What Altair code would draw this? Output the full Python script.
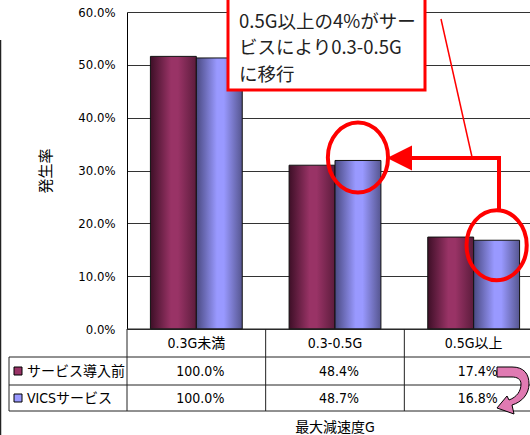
import altair as alt
import pandas as pd

# ---- data -------------------------------------------------------------
categories = ["0.3G未満", "0.3-0.5G", "0.5G以上"]
series_names = ["サービス導入前", "VICSサービス"]
# share of events at or above each deceleration band (table rows, %)
cum_before = [100.0, 48.4, 17.4]
cum_vics = [100.0, 48.7, 16.8]
y_ticks = [0, 10, 20, 30, 40, 50, 60]
note_lines = ["0.5G以上の4%がサー", "ビスにより0.3-0.5G", "に移行"]
x_title = "最大減速度G"
y_title = "発生率"


def band_share(cum):
    """Occurrence rate inside each band, from the cumulative table values."""
    out = []
    for i, v in enumerate(cum):
        nxt = cum[i + 1] if i + 1 < len(cum) else 0.0
        out.append(round(v - nxt, 1))
    return out


rows = []
for name, cum in zip(series_names, [cum_before, cum_vics]):
    for cat, share, c in zip(categories, band_share(cum), cum):
        rows.append({"category": cat, "series": name, "value": share,
                     "cum": f"{c:.1f}%"})
df = pd.DataFrame(rows)
cat_df = pd.DataFrame({"category": categories})
one = pd.DataFrame({"k": [0]})

# ---- layout -----------------------------------------------------------
W, H = 403, 317
NARROW = ("DejaVu Sans Condensed, Liberation Sans Narrow, Arial Narrow, "
          "Roboto Condensed, Noto Sans CJK JP")
JP = "Noto Sans CJK JP"
RED = "#ff0000"

x_scale = alt.Scale(domain=categories, range=[0, 416], paddingInner=0, paddingOuter=0)
xo_scale = alt.Scale(domain=series_names, paddingInner=0, paddingOuter=0.51)
y_scale = alt.Scale(domain=[0, 60], nice=False, zero=True)

X = alt.X("category:N", scale=x_scale, axis=None, sort=categories)
XO = alt.XOffset("series:N", scale=xo_scale, sort=series_names)
Y = alt.Y("value:Q", scale=y_scale)


def grad(stops):
    return alt.Gradient(
        gradient="linear", x1=0, x2=1, y1=0, y2=0,
        stops=[alt.GradientStop(offset=o, color=c) for o, c in stops],
    )


maroon = grad([(0, "#3e0f27"), (0.45, "#993366"), (0.6, "#993366"), (1, "#5c1c3c")])
lilac = grad([(0, "#4a4a82"), (0.45, "#9999ff"), (0.6, "#9999ff"), (1, "#565690")])

y_axis = alt.Axis(
    values=y_ticks, labelExpr="format(datum.value, '.1f') + '%'",
    grid=True, gridColor="#333333", gridWidth=1,
    ticks=False, domain=True, domainColor="#000000",
    labelFont=NARROW, labelFontSize=13, labelColor="#000000", labelPadding=12,
    title=y_title, titleFont=JP, titleFontSize=15, titleFontWeight="normal",
    titleColor="#000000", titleX=-82, titleY=H / 2, titleAlign="center",
    titleBaseline="middle", titleAngle=-90,
)


def bars(name, fill, y_enc):
    return alt.Chart(df).transform_filter(alt.datum.series == name).mark_bar(
        fill=fill, stroke="#111111", strokeWidth=1
    ).encode(x=X, xOffset=XO, y=y_enc)


layers = [
    bars(series_names[0], maroon, alt.Y("value:Q", scale=y_scale, axis=y_axis)),
    bars(series_names[1], lilac, Y),
]


# ---- data table beneath the plot ---------------------------------------
def hline(y, x0=-118, x1=W, color="#222222"):
    return alt.Chart(one).mark_rule(color=color, strokeWidth=1).encode(
        x=alt.value(x0), x2=alt.value(x1), y=alt.value(y))


def vline(x, y0, y1, color="#222222", width=1):
    return alt.Chart(one).mark_rule(color=color, strokeWidth=width).encode(
        x=alt.value(x), y=alt.value(y0), y2=alt.value(y1))


layers += [
    hline(H, x0=0),
    hline(345), hline(373), hline(399),
    vline(-118, 345, 399), vline(0, H, 399),
    alt.Chart(pd.DataFrame({"category": categories[1:]})).mark_rule(
        color="#222222", strokeWidth=1
    ).encode(
        x=alt.X("category:N", scale=x_scale, axis=None, bandPosition=0),
        y=alt.value(H), y2=alt.value(399),
    ),
    alt.Chart(cat_df).mark_text(font=NARROW, fontSize=14, color="#000000",
                                baseline="middle").encode(
        x=X, y=alt.value(332), text="category:N"),
]

row_y = {series_names[0]: 360, series_names[1]: 387}
swatch = {series_names[0]: "#993366", series_names[1]: "#9999ff"}
for name in series_names:
    layers += [
        alt.Chart(df).transform_filter(alt.datum.series == name).mark_text(
            font=NARROW, fontSize=14, color="#000000", baseline="middle", dx=4
        ).encode(x=X, y=alt.value(row_y[name]), text="cum:N"),
        alt.Chart(one).mark_point(shape="square", filled=True, size=64,
                                  fill=swatch[name], stroke="#000000",
                                  strokeWidth=1, opacity=1).encode(
            x=alt.value(-109), y=alt.value(row_y[name] - 1)),
        alt.Chart(one).mark_text(text=name, font=NARROW, fontSize=14,
                                 color="#000000", align="left",
                                 baseline="middle").encode(
            x=alt.value(-100), y=alt.value(row_y[name])),
    ]

layers.append(
    alt.Chart(one).mark_text(text=x_title, font=NARROW, fontSize=14,
                             color="#000000", baseline="middle").encode(
        x=alt.value(208), y=alt.value(416)))

# frame line along the left edge
layers.append(vline(-126.5, 28, 440, color="#222222", width=1.5))


# ---- annotations --------------------------------------------------------
def path_from(points_cmds, half):
    """Turn pixel-offset path commands into a unit-square symbol path."""
    out = []
    for tok in points_cmds.split():
        try:
            out.append(f"{float(tok) / half:.3f}")
        except ValueError:
            out.append(tok)
    return " ".join(out)


k = 0.5523
rx, ry = 0.86, 1.0
ellipse = (
    f"M {-rx} 0 C {-rx} {-ry*k} {-rx*k} {-ry} 0 {-ry} "
    f"C {rx*k} {-ry} {rx} {-ry*k} {rx} 0 "
    f"C {rx} {ry*k} {rx*k} {ry} 0 {ry} "
    f"C {-rx*k} {ry} {-rx} {ry*k} {-rx} 0 Z"
)

vics = df[df.series == series_names[1]]
for cat, dy in [(categories[1], -3), (categories[2], 5)]:
    layers.append(
        alt.Chart(vics[vics.category == cat]).mark_point(
            shape=ellipse, size=4900, filled=False, color=RED, strokeWidth=4,
            opacity=1, yOffset=dy,
        ).encode(x=X, xOffset=XO, y=Y)
    )

# elbow arrow from the 0.5G band to the 0.3-0.5G band
layers += [
    vline(372, 146, 199, color=RED, width=4),
    alt.Chart(one).mark_rule(color=RED, strokeWidth=4, strokeCap="square").encode(
        x=alt.value(284), x2=alt.value(372), y=alt.value(146)),
    alt.Chart(one).mark_point(shape="M -1 0 L 1 -1 L 1 1 Z", size=625,
                              filled=True, fill=RED, strokeWidth=0,
                              opacity=1).encode(
        x=alt.value(272.5), y=alt.value(146)),
    # callout pointer
    alt.Chart(one).mark_rule(color=RED, strokeWidth=1.5).encode(
        x=alt.value(314), x2=alt.value(345), y=alt.value(7), y2=alt.value(145)),
    # callout box
    alt.Chart(one).mark_rect(fill="#ffffff", stroke=RED, strokeWidth=3).encode(
        x=alt.value(101), x2=alt.value(298), y=alt.value(-20), y2=alt.value(78)),
]
# callout text, one line per mark
for line, ly in zip(note_lines, [9.5, 36, 62.5]):
    layers.append(
        alt.Chart(one).mark_text(text=line, font=JP, fontSize=18.5,
                                 color="#222222", align="left",
                                 baseline="middle").encode(
            x=alt.value(112), y=alt.value(ly)))

# curved pink arrow beside the table values
u_turn = path_from(
    "M -15 -25 L 0 -25 C 12 -25 17 -18 17 -8 C 17 2 10 10 0 13 "
    "L 2 22 L -15 16 L -5 4 L -3 8 C 5 5 9 -1 9 -8 "
    "C 9 -13 5 -15 0 -15 L -15 -15 Z", 26)
layers.append(
    alt.Chart(one).mark_point(shape=u_turn, size=2704, filled=True,
                              fill="#e07ab2", stroke="#000000", strokeWidth=1,
                              opacity=1).encode(
        x=alt.value(385), y=alt.value(380)))

chart = alt.layer(*layers).properties(
    width=W, height=H,
    autosize=alt.AutoSizeParams(type="none"),
    padding={"left": 127, "top": 12, "right": 0, "bottom": 106},
    background="#ffffff",
).configure_view(stroke=None)

chart.save("out.html", embed_options={"renderer": "svg", "actions": False})
